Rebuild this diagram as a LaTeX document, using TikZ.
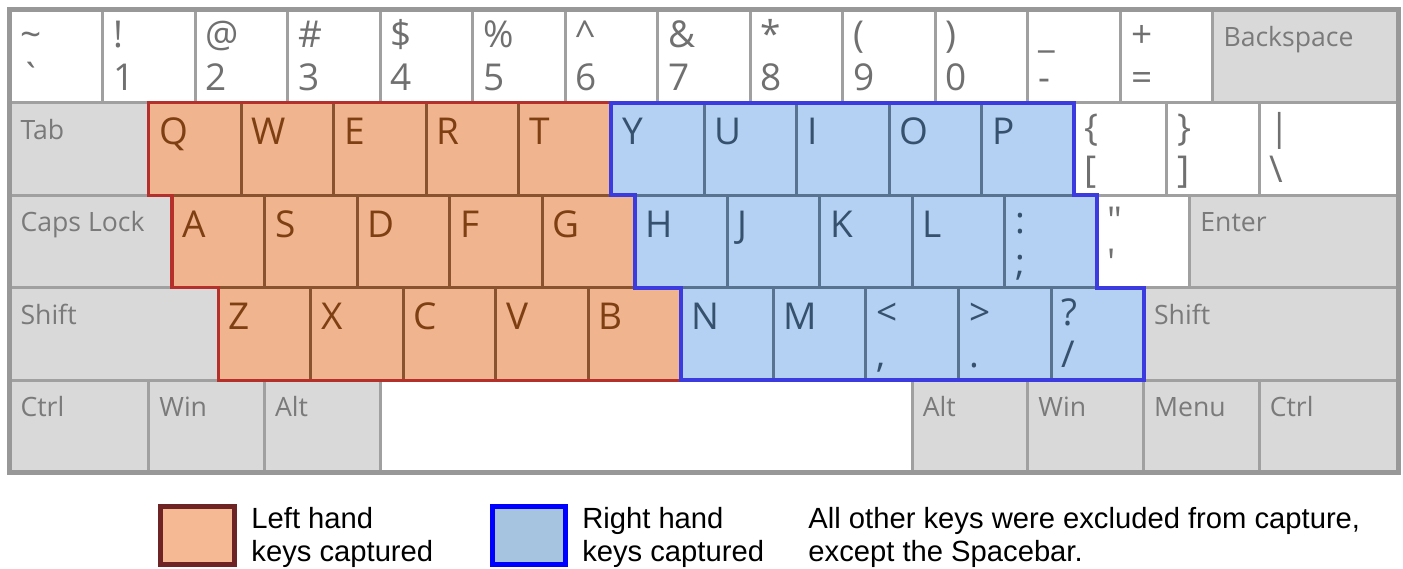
\documentclass[tikz,border=0pt]{standalone}
\usepackage{fontspec}
\usepackage{xcolor}
\setmainfont{Liberation Sans}
\newfontfamily\keyfont{Open Sans}
\definecolor{keyline}{HTML}{A0A0A0}
\definecolor{modgray}{HTML}{D9D9D9}
\definecolor{modtext}{HTML}{7A7A7A}
\definecolor{symtext}{HTML}{707070}
\definecolor{leftfill}{HTML}{F0B48E}
\definecolor{leftline}{HTML}{8A5330}
\definecolor{lefttext}{HTML}{7E3F12}
\definecolor{rightfill}{HTML}{B4D0F2}
\definecolor{rightline}{HTML}{587390}
\definecolor{righttext}{HTML}{36516E}
\definecolor{leftedge}{HTML}{B5302A}
\definecolor{rightedge}{HTML}{3B3BE0}
\definecolor{legleft}{HTML}{F5BA94}
\definecolor{legleftline}{HTML}{6E2424}
\definecolor{legright}{HTML}{A6C3DF}
\tikzset{
  keybox/.style   = {draw=keyline, line width=1.5pt, fill=white},
  modkey/.style   = {keybox, fill=modgray},
  leftkey/.style  = {draw=leftline, line width=1.5pt, fill=leftfill},
  rightkey/.style = {draw=rightline, line width=1.5pt, fill=rightfill},
  modlab/.style   = {anchor=base west, inner sep=0pt, text=modtext,
                     font=\keyfont\fontsize{13.3}{16}\selectfont},
  symlab/.style   = {anchor=base west, inner sep=0pt, text=symtext,
                     font=\keyfont\fontsize{18.5}{21}\selectfont},
  leftlab/.style  = {symlab, text=lefttext},
  rightlab/.style = {symlab, text=righttext},
  lefthand/.style = {draw=leftedge, line width=1.6pt},
  righthand/.style= {draw=rightedge, line width=2pt},
  kbframe/.style  = {draw=keyline!95!black, line width=2.5pt},
  legbox/.style   = {line width=2.5pt},
  legtext/.style  = {anchor=north west, inner sep=0pt, align=left,
                     font=\fontsize{14.6}{16.5}\selectfont},
}
\begin{document}
\begin{tikzpicture}[x=46.27pt, y=-46.3pt]
\useasboundingbox (-0.108,-0.108) rectangle (15.054,6.037);
% number row
\foreach \i/\up/\dn in {0/\textasciitilde/\textasciigrave, 1/!/1, 2/@/2, 3/\#/3,
    4/\$/4, 5/\%/5, 6/\textasciicircum/6, 7/\&/7, 8/*/8, 9/{(}/9, 10/{)}/0,
    11/\_/-, 12/+/=}{
  \draw[keybox] (\i,0) rectangle ++(1,1);
  \node[symlab] (u-\i) at (\i+0.11,0.41) {\up};
  \node[symlab] (d-\i) at (\i+0.11,0.865) {\dn};
}
% modifier keys
\foreach \x/\r/\w/\t/\nm in {13/0/2/Backspace/bksp, 0/1/1.5/Tab/tab,
    0/2/1.75/Caps Lock/caps, 12.75/2/2.25/Enter/enter, 0/3/2.25/Shift/lshift,
    12.25/3/2.75/Shift/rshift, 0/4/1.5/Ctrl/lctrl, 1.5/4/1.25/Win/lwin,
    2.75/4/1.25/Alt/lalt, 9.75/4/1.25/Alt/ralt, 11/4/1.25/Win/rwin,
    12.25/4/1.25/Menu/menu, 13.5/4/1.5/Ctrl/rctrl}{
  \draw[modkey] (\x,\r) rectangle ++(\w,1);
  \node[modlab] (\nm) at (\x+0.11,\r+0.395) {\t};
}
\draw[keybox] (4,4) rectangle ++(5.75,1);
% white symbol keys
\foreach \x/\r/\w/\up/\dn/\nm in {11.5/1/1/\{/[/lbr, 12.5/1/1/\}/]/rbr,
    13.5/1/1.5/\textbar/\textbackslash/bsl,
    11.75/2/1/\textquotedbl/\textquotesingle/quo}{
  \draw[keybox] (\x,\r) rectangle ++(\w,1);
  \node[symlab] (u-\nm) at (\x+0.11,\r+0.41) {\up};
  \node[symlab] (d-\nm) at (\x+0.11,\r+0.865) {\dn};
}
% left hand keys
\foreach \c/\x/\r in {Q/1.5/1, W/2.5/1, E/3.5/1, R/4.5/1, T/5.5/1,
    A/1.75/2, S/2.75/2, D/3.75/2, F/4.75/2, G/5.75/2,
    Z/2.25/3, X/3.25/3, C/4.25/3, V/5.25/3, B/6.25/3}{
  \draw[leftkey] (\x,\r) rectangle ++(1,1);
  \node[leftlab] (k-\c) at (\x+0.11,\r+0.453) {\c};
}
% right hand keys
\foreach \c/\x/\r in {Y/6.5/1, U/7.5/1, I/8.5/1, O/9.5/1, P/10.5/1,
    H/6.75/2, J/7.75/2, K/8.75/2, L/9.75/2, N/7.25/3, M/8.25/3}{
  \draw[rightkey] (\x,\r) rectangle ++(1,1);
  \node[rightlab] (k-\c) at (\x+0.11,\r+0.453) {\c};
}
\foreach \x/\r/\up/\dn/\nm in {10.75/2/:/;/col, 9.25/3/</{,}/lt, 10.25/3/>/./gt,
    11.25/3/?/{/}/sl}{
  \draw[rightkey] (\x,\r) rectangle ++(1,1);
  \node[rightlab] (u-\nm) at (\x+0.11,\r+0.41) {\up};
  \node[rightlab] (d-\nm) at (\x+0.11,\r+0.865) {\dn};
}
% hand outlines
\draw[lefthand] (1.5,1) -- (6.5,1) -- (6.5,2) -- (6.75,2) -- (6.75,3) -- (7.25,3)
  -- (7.25,4) -- (2.25,4) -- (2.25,3) -- (1.75,3) -- (1.75,2) -- (1.5,2) -- cycle;
\draw[righthand] (6.5,1) -- (11.5,1) -- (11.5,2) -- (11.75,2) -- (11.75,3)
  -- (12.25,3) -- (12.25,4) -- (7.25,4) -- (7.25,3) -- (6.75,3) -- (6.75,2)
  -- (6.5,2) -- cycle;
\draw[kbframe] (0,0) rectangle (15,5);
% legend
\draw[legbox, draw=legleftline, fill=legleft] (1.627,5.362) rectangle (2.427,5.988);
\draw[legbox, draw=blue, fill=legright] (5.215,5.362) rectangle (6.004,5.988);
\node[legtext] (leftleg) at (2.605,5.367) {Left hand\\keys captured};
\node[legtext] (rightleg) at (6.18,5.367) {Right hand\\keys captured};
\node[legtext] (otherleg) at (8.624,5.367) {All other keys were excluded from capture,\\except the Spacebar.};
\end{tikzpicture}
\end{document}
